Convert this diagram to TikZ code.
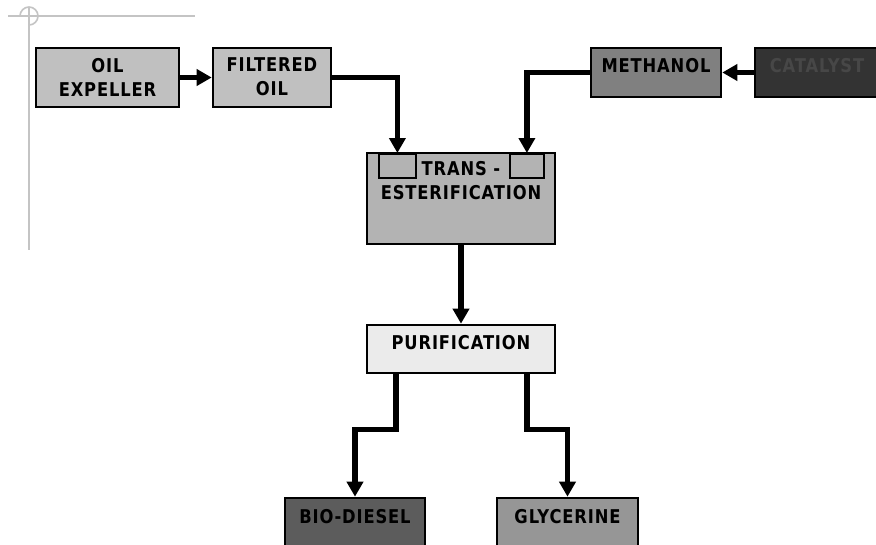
\documentclass[tikz,border=0pt]{standalone}
\usepackage{fontspec}
\setmainfont{DejaVu Sans}
\newfontfamily\lblfont{DejaVu Sans}[FakeStretch=0.86, LetterSpace=4.5]
\usetikzlibrary{arrows.meta,calc}
\definecolor{cropc}{HTML}{C4C4C4}
\definecolor{lightbox}{HTML}{C0C0C0}
\definecolor{transc}{HTML}{B3B3B3}
\definecolor{purc}{HTML}{EBEBEB}
\definecolor{methc}{HTML}{808080}
\definecolor{catc}{HTML}{333333}
\definecolor{cattext}{HTML}{474747}
\definecolor{bioc}{HTML}{5C5C5C}
\definecolor{glyc}{HTML}{969696}
\tikzset{
  box/.style={draw=black, line width=2.6pt, rectangle, inner sep=0pt},
  inbox/.style={draw=black, line width=1.8pt, rectangle, inner sep=0pt, fill=transc},
  lbl/.style={anchor=north, inner sep=0pt, align=center, text=black,
    font=\lblfont\bfseries\fontsize{19}{24}\selectfont},
  conn/.style={line width=5.5pt, line join=miter, -{Triangle[width=16pt,length=15pt]}},
  crop/.style={draw=cropc, line width=1.6pt}
}
\begin{document}
\begin{tikzpicture}[x=1pt,y=-1pt]
\useasboundingbox (0,0) rectangle (876,544);
\clip (0,0) rectangle (876,544);
\fill[white] (0,0) rectangle (876,544);
% crop mark
\draw[crop] (8,16) -- (195,16);
\draw[crop] (29,7) -- (29,250);
\draw[crop] (20,16) arc[start angle=180, end angle=-90, radius=9pt];
% boxes
\node[box, fill=lightbox, minimum width=143pt, minimum height=59pt] (oil) at (107.5,77.5) {};
\node[box, fill=lightbox, minimum width=118pt, minimum height=59pt] (filt) at (272,77.5) {};
\node[box, fill=transc, minimum width=188pt, minimum height=91pt] (trans) at (461,198.5) {};
\node[inbox, minimum width=37pt, minimum height=24pt, anchor=north west] (inL) at (378,153) {};
\node[inbox, minimum width=34pt, minimum height=24pt, anchor=north west] (inR) at (509,153) {};
\node[box, fill=methc, minimum width=130pt, minimum height=49pt] (meth) at (656,72.5) {};
\node[box, fill=catc, minimum width=124pt, minimum height=49pt] (cat) at (817,72.5) {};
\node[box, fill=purc, minimum width=188pt, minimum height=48pt] (pur) at (461,349) {};
\node[box, fill=bioc, minimum width=140pt, minimum height=60pt] (bio) at (355,528) {};
\node[box, fill=glyc, minimum width=141pt, minimum height=60pt] (gly) at (567.5,528) {};
% labels
\node[lbl] (oilT) at ($(oil.north)+(0,11)$) {OIL\\EXPELLER};
\node[lbl] (filtT) at ($(filt.north)+(0,11)$) {FILTERED\\OIL};
\node[lbl] (transT) at ($(trans.north)+(0,9)$) {TRANS -\\ESTERIFICATION};
\node[lbl] (methT) at ($(meth.north)+(0,11)$) {METHANOL};
\node[lbl, text=cattext] (catT) at ($(cat.north)+(0,11)$) {CATALYST};
\node[lbl] (purT) at ($(pur.north)+(0,11)$) {PURIFICATION};
\node[lbl] (bioT) at ($(bio.north)+(0,12)$) {BIO-DIESEL};
\node[lbl] (glyT) at ($(gly.north)+(0,12)$) {GLYCERINE};
% connectors
\coordinate (pL) at ($(pur.south)+(-65,0)$);
\coordinate (pR) at ($(pur.south)+(66,0)$);
\draw[conn] (oil.east) -- (filt.west);
\draw[conn] (filt.east) -| (inL.north);
\draw[conn] (meth.west) -| (inR.north);
\draw[conn] (cat.west) -- (meth.east);
\draw[conn] (trans.south) -- (pur.north);
\draw[conn] (pL) -- ++(0,55) -| (bio.north);
\draw[conn] (pR) -- ++(0,55) -| (gly.north);
\end{tikzpicture}
\end{document}
